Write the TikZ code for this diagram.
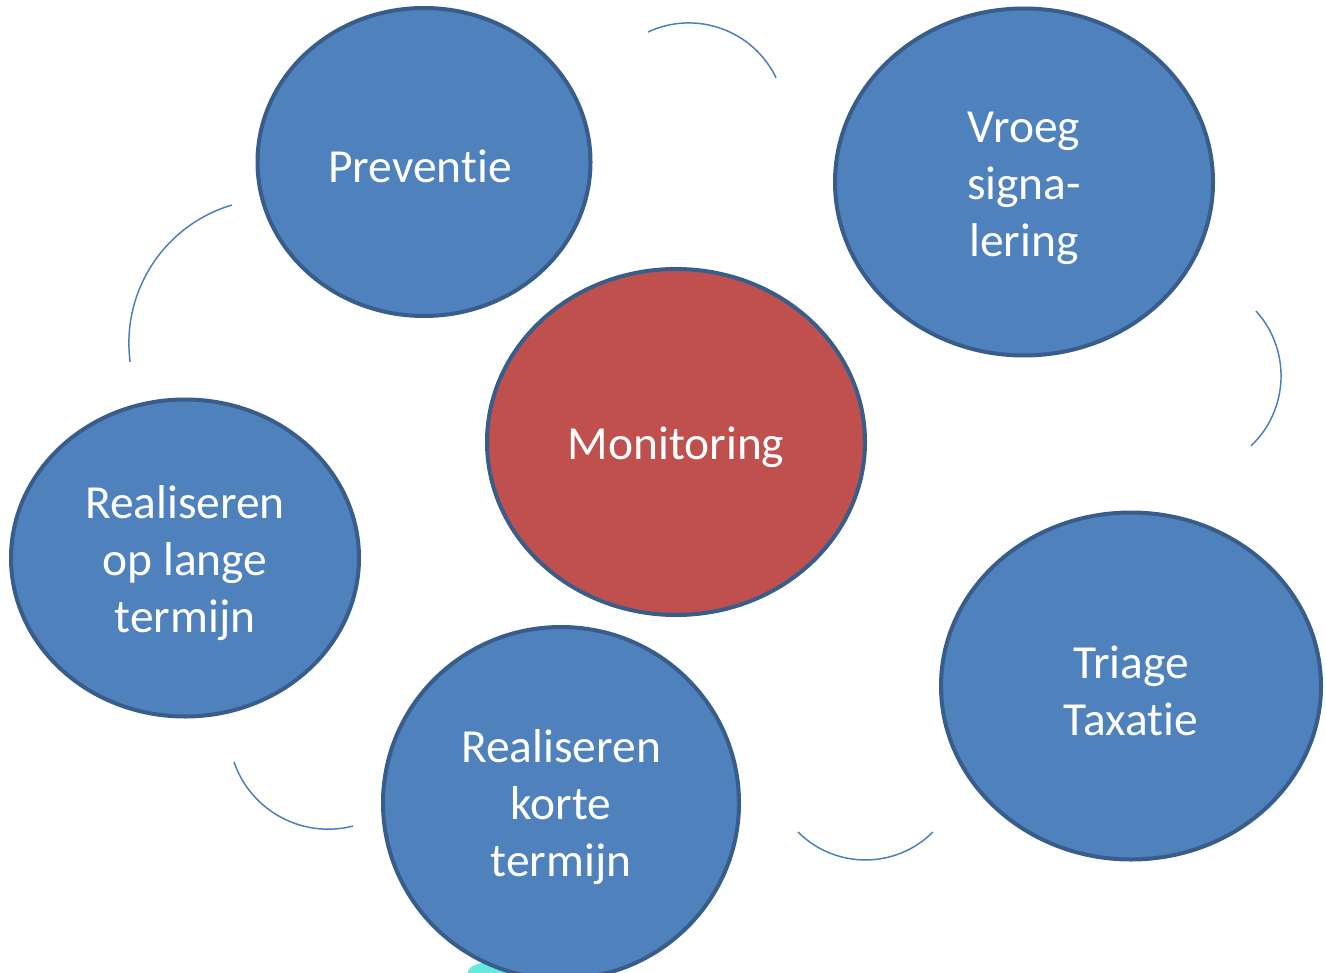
\documentclass[tikz,border=0pt]{standalone}
\usepackage{fontspec}
\setmainfont{Carlito}[Ligatures=NoCommon]
\usetikzlibrary{shapes.geometric}
\definecolor{bfill}{HTML}{4F81BD}
\definecolor{bline}{HTML}{385D8A}
\definecolor{rfill}{HTML}{C0504D}
\definecolor{arcc}{HTML}{4A7EBB}
\definecolor{cyanblob}{HTML}{3FE3DA}
\tikzset{
  bubble/.style={ellipse, draw=bline, line width=3pt, fill=bfill, inner sep=0pt},
  redbubble/.style={bubble, fill=rfill},
  btext/.style={text=white, inner sep=0pt, align=center, font=\fontsize{35.6}{42.75}\selectfont},
  arcline/.style={draw=arcc, line width=1.1pt}
}
\begin{document}
\begin{tikzpicture}[x=0.75pt,y=-0.75pt]
\useasboundingbox (0,0) rectangle (1326,973);
% decorative arcs
\draw[arcline] (648,32) arc[start angle=-115, end angle=-25.6, radius=96.7];
\draw[arcline] (1256,311) arc[start angle=-42.2, end angle=46.5, radius=96.6];
\draw[arcline] (798,832) arc[start angle=135, end angle=45, radius=95.4];
\draw[arcline] (234,762) arc[start angle=161, end angle=75.6, radius=99.6];
\draw[arcline] (232,205) arc[start angle=253.5, end angle=172.5, radius=144];
% small cyan smudge
\fill[cyanblob, opacity=0.8] (492,972) ellipse [x radius=24, y radius=10];
% bubbles
\node[bubble, minimum width=249.75pt, minimum height=231pt] (prev) at (424,162) {};
\node[bubble, minimum width=283.5pt, minimum height=260.25pt] (vroeg) at (1024,182) {};
\node[redbubble, minimum width=283.5pt, minimum height=259.5pt] (mon) at (676,442) {};
\node[bubble, minimum width=261pt, minimum height=237.75pt] (lang) at (185,558) {};
\node[bubble, minimum width=267pt, minimum height=264pt] (kort) at (561,803) {};
\node[bubble, minimum width=285pt, minimum height=260.25pt] (triage) at (1131,686) {};
% labels
\node[btext] (prevt) at (420,166) {Preventie};
\node[btext] (vroegt) at (1024,188) {Vroeg\\signa-\\lering};
\node[btext] (mont) at (676,447) {Monitoring};
\node[btext] (langt) at (185,563) {Realiseren\\op lange\\termijn};
\node[btext] (kortt) at (561,807) {Realiseren\\korte\\termijn};
\node[btext] (triaget) at (1131,691) {Triage\\Taxatie};
\end{tikzpicture}
\end{document}
